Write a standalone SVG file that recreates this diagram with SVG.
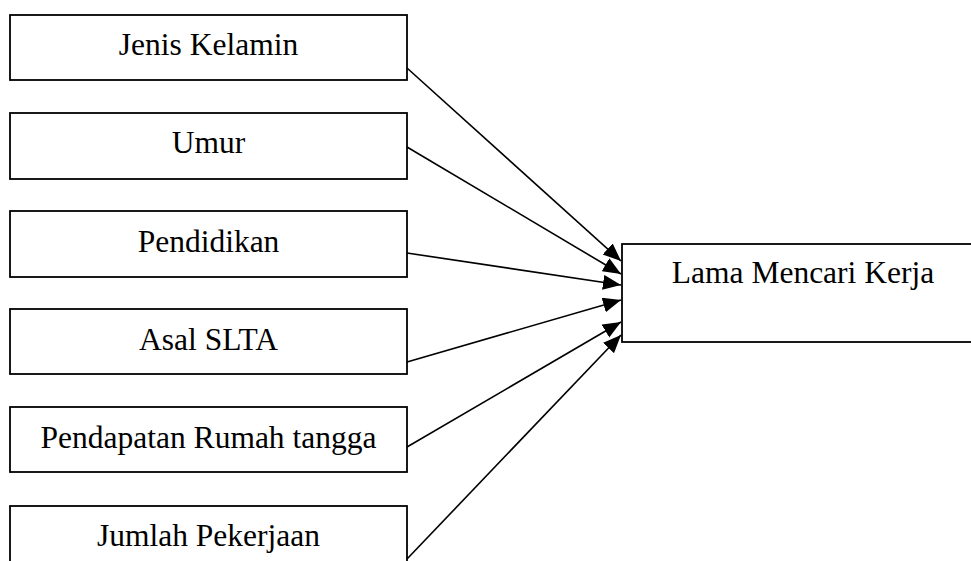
<svg xmlns="http://www.w3.org/2000/svg" width="971" height="561" viewBox="0 0 971 561">
<style>
.box{fill:#fff;stroke:#000;stroke-width:1.8}
.lbl{font-family:"Liberation Serif","Times New Roman",serif;font-size:31.5px;fill:#000;text-anchor:middle}
.con{stroke:#000;stroke-width:1.6;fill:none;marker-end:url(#ah)}
</style>
<defs>
<marker id="ah" markerUnits="userSpaceOnUse" markerWidth="20" markerHeight="16" refX="18" refY="7.5" orient="auto">
<path d="M0,0 L18,7.5 L0,15 Z" fill="#000"/>
</marker>
</defs>
<rect width="971" height="561" fill="#fff"/>
<g id="jenis-kelamin"><rect class="box" x="10" y="15" width="397" height="65"/><text class="lbl" x="208.5" y="55">Jenis Kelamin</text></g>
<g id="umur"><rect class="box" x="10" y="113" width="397" height="66"/><text class="lbl" x="208.5" y="153">Umur</text></g>
<g id="pendidikan"><rect class="box" x="10" y="211" width="397" height="66"/><text class="lbl" x="208.5" y="251.5">Pendidikan</text></g>
<g id="asal-slta"><rect class="box" x="10" y="309" width="397" height="65"/><text class="lbl" x="208.5" y="350">Asal SLTA</text></g>
<g id="pendapatan"><rect class="box" x="10" y="407" width="397" height="65"/><text class="lbl" x="208.5" y="448">Pendapatan Rumah tangga</text></g>
<g id="jumlah-pekerjaan"><rect class="box" x="10" y="506" width="397" height="70"/><text class="lbl" x="208.5" y="545.5">Jumlah Pekerjaan</text></g>
<g id="lama-mencari-kerja"><rect class="box" x="622" y="244" width="360" height="98"/><text class="lbl" x="803" y="283">Lama Mencari Kerja</text></g>
<g id="connectors">
<line class="con" x1="407" y1="68" x2="621" y2="261"/>
<line class="con" x1="407" y1="147" x2="621" y2="274"/>
<line class="con" x1="407" y1="253" x2="621" y2="285"/>
<line class="con" x1="407" y1="362" x2="621" y2="300"/>
<line class="con" x1="407" y1="447" x2="621" y2="322"/>
<line class="con" x1="407" y1="559" x2="621" y2="335"/>
</g>
</svg>
